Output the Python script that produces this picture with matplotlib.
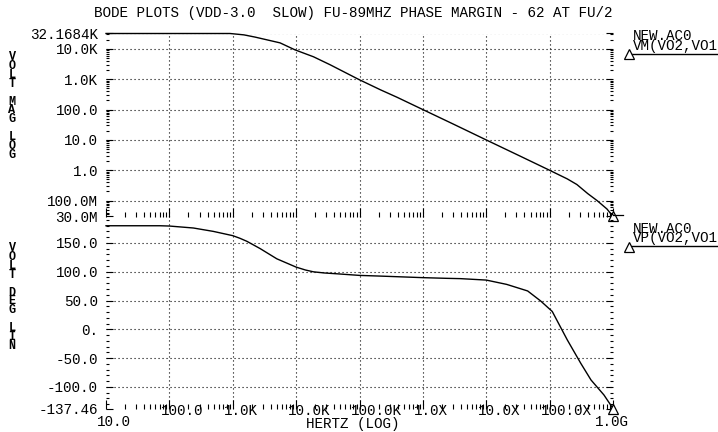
import matplotlib
matplotlib.use('Agg')
import matplotlib.pyplot as plt
from matplotlib.ticker import LogLocator, MultipleLocator, FixedLocator, NullFormatter
from matplotlib.transforms import ScaledTranslation

# ---------------- data ----------------
freq_mag = [10, 100, 908, 1.5e3, 2.25e3, 5.58e3, 9.6e3, 1.88e4, 3.44e4, 9.6e4,
            2.14e5, 3.91e5, 1e6, 3.05e6, 1e7, 3.46e7, 1e8, 1.9e8, 2.69e8, 4e8,
            5.62e8, 8.03e8, 1e9]
mag = [32168.4, 32168.4, 32168.4, 29000, 24500, 15800, 9300, 5500, 3000, 1000,
       449, 255, 100, 33, 10, 2.9, 1.0, 0.52, 0.34, 0.17, 0.1, 0.053, 0.03]

freq_ph = [10, 71, 100, 239, 494, 1e3, 1.3e3, 1.67e3, 2.7e3, 4.96e3, 1e4, 1.4e4,
           1.88e4, 2.8e4, 4.4e4, 1e5, 2.14e5, 1e6, 2.4e6, 3.9e6, 1e7, 2.1e7,
           4.5e7, 7.2e7, 1.1e8, 1.9e8, 3.1e8, 4.5e8, 7.2e8, 1e9]
phase = [179.8, 179.8, 179.3, 175.9, 170, 162.6, 158, 152.8, 140.2, 122.4, 108,
         103, 99.8, 97.8, 96.4, 93.6, 92.4, 89.7, 88.5, 88, 85.5, 78, 66.6, 49.3,
         31, -18.4, -59, -88, -114, -137.46]

mag_ticks = [0.03, 0.1, 1, 10, 100, 1e3, 1e4, 32168.4]
mag_labels = ['30.0M', '100.0M', '1.0', '10.0', '100.0', '1.0K', '10.0K', '32.1684K']
ph_ticks = [-137.46, -100, -50, 0, 50, 100, 150]
ph_labels = ['-137.46', '-100.0', '-50.0', '0.', '50.0', '100.0', '150.0']
x_ticks = [10, 100, 1e3, 1e4, 1e5, 1e6, 1e7, 1e8, 1e9]
x_labels = ['10.0', '100.0', '1.0K', '10.0K', '100.0K', '1.0X', '10.0X', '100.0X', '1.0G']

title = 'BODE PLOTS (VDD-3.0  SLOW) FU-89MHZ PHASE MARGIN - 62 AT FU/2'
mag_axis_label = 'V\nO\nL\nT\n\nM\nA\nG\n\nL\nO\nG'
ph_axis_label = 'V\nO\nL\nT\n\nD\nE\nG\n\nL\nI\nN'
mag_trace = 'NEW.AC0\nVM(VO2,VO1'
ph_trace = 'NEW.AC0\nVP(VO2,VO1'

# ---------------- layout ----------------
W, H = 718, 432
FONT = 'Liberation Mono'
FS = 10.3
plt.rcParams['font.family'] = [FONT, 'DejaVu Sans Mono']

fig = plt.figure(figsize=(W / 100, H / 100), dpi=100)
fig.patch.set_facecolor('white')


def rect(l, t, r, b):
    return [l / W, 1 - b / H, (r - l) / W, (b - t) / H]


def fx(x):
    return x / W


def fy(y):
    return 1 - y / H


ax1 = fig.add_axes(rect(106, 33.5, 613, 216.5))
ax2 = fig.add_axes(rect(106, 214, 613, 408.5))
ax1.patch.set_alpha(0)
ax2.patch.set_alpha(0)

grid_kw = dict(color='black', lw=0.8, ls=(0, (1, 2.6)), zorder=1)

for ax in (ax1, ax2):
    for s in ax.spines.values():
        s.set_visible(False)
    ax.set_xscale('log')
    ax.set_xlim(10, 1e9)
    ax.xaxis.set_major_locator(FixedLocator(x_ticks))
    ax.xaxis.set_minor_locator(LogLocator(base=10, subs=range(2, 10), numticks=20))
    ax.xaxis.set_major_formatter(NullFormatter())
    ax.xaxis.set_minor_formatter(NullFormatter())
    ax.tick_params(axis='x', which='both', direction='in', bottom=True, top=False,
                   labelbottom=False, width=0.8, color='black')
    ax.tick_params(axis='x', which='major', length=6.5)
    ax.tick_params(axis='x', which='minor', length=3.5)
    ax.tick_params(axis='y', which='both', direction='in', left=True, right=True,
                   labelleft=True, labelright=False, width=0.8, pad=5.8,
                   labelsize=FS, color='black')
    ax.tick_params(axis='y', which='major', length=5)
    ax.tick_params(axis='y', which='minor', length=2.5)
    for f in x_ticks[1:-1]:
        ax.axvline(f, **grid_kw)

# magnitude plot
ax1.set_yscale('log')
ax1.set_ylim(0.03, 32168.4)
ax1.yaxis.set_major_locator(FixedLocator(mag_ticks))
ax1.set_yticklabels(mag_labels)
ax1.yaxis.set_minor_locator(LogLocator(base=10, subs=range(2, 10), numticks=20))
ax1.yaxis.set_minor_formatter(NullFormatter())
for v in mag_ticks[1:]:
    ax1.axhline(v, **grid_kw)
ax1.plot(freq_mag, mag, color='black', lw=1.0, zorder=3, clip_on=False)
ax1.plot([freq_mag[-1]], [mag[-1]], marker='^', ms=7, mfc='white', mec='black',
         mew=0.9, clip_on=False, zorder=4)

# phase plot
ax2.set_ylim(-137.46, 200.2)
ax2.yaxis.set_major_locator(FixedLocator(ph_ticks))
ax2.set_yticklabels(ph_labels)
ax2.yaxis.set_minor_locator(MultipleLocator(10))
for v in ph_ticks[1:]:
    ax2.axhline(v, **grid_kw)
ax2.plot(freq_ph, phase, color='black', lw=1.0, zorder=3, clip_on=False)
ax2.plot([freq_ph[-1]], [phase[-1]], marker='^', ms=7, mfc='white', mec='black',
         mew=0.9, clip_on=False, zorder=4)

# x tick labels (left-aligned one character before the tick)
CAP = 4.1  # half cap height in px
for f, lbl in zip(x_ticks[1:-1], x_labels[1:-1]):
    tr = ax2.get_xaxis_transform() + ScaledTranslation(-8.6 / 100, -(6.6 / 100),
                                                         fig.dpi_scale_trans)
    ax2.text(f, 0, lbl, transform=tr, ha='left', va='baseline', fontsize=FS,
             clip_on=False)
fig.text(fx(97), fy(422 + CAP), x_labels[0], ha='left', va='baseline', fontsize=FS)
fig.text(fx(595), fy(422 + CAP), x_labels[-1], ha='left', va='baseline', fontsize=FS)
fig.text(fx(306), fy(424 + CAP), 'HERTZ (LOG)', ha='left', va='baseline', fontsize=FS)

# title
fig.text(fx(353.5), fy(13 + CAP), title, ha='center', va='baseline', fontsize=FS)

# stacked y labels
fig.text(fx(12), fy(106), mag_axis_label, ha='center', va='center', fontsize=8.5,
         fontweight='bold', linespacing=0.66, multialignment='center')
fig.text(fx(12), fy(297), ph_axis_label, ha='center', va='center', fontsize=8.5,
         fontweight='bold', linespacing=0.66, multialignment='center')

# trace legends on the right
fig.text(fx(633), fy(41.0), mag_trace, ha='left', va='center', fontsize=FS,
         linespacing=0.57, multialignment='left')
fig.text(fx(633), fy(233.5), ph_trace, ha='left', va='center', fontsize=FS,
         linespacing=0.57, multialignment='left')

for yl in (53.5, 246):
    fig.add_artist(plt.Line2D([fx(628), fx(718)], [fy(yl), fy(yl)], color='black', lw=1.0))
    fig.add_artist(plt.Line2D([fx(628.5)], [fy(yl + 0.5)], marker='^', ms=7,
                              mfc='white', mec='black', mew=0.9, lw=0))
fig.add_artist(plt.Line2D([fx(613), fx(623)], [fy(215), fy(215)], color='black', lw=0.9))

fig.savefig('out.png', dpi=100)
